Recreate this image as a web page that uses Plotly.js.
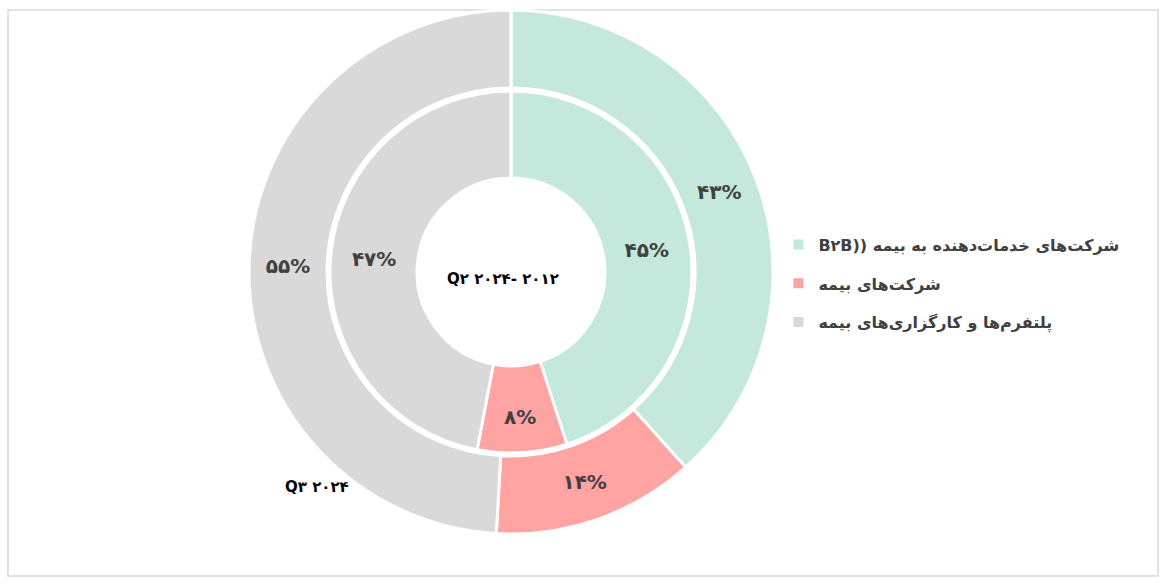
<!DOCTYPE html>
<html>
<head>
<meta charset="utf-8">
<script src="https://cdn.plot.ly/plotly-3.0.1.min.js"></script>
<style>html,body{margin:0;padding:0;background:#fff;}#chart{width:1167px;height:588px;}</style>
</head>
<body>
<div id="chart"></div>
<script>
// Data
const categories = ["B۲B)) شرکت‌های خدمات‌دهنده به بیمه", "شرکت‌های بیمه", "پلتفرم‌ها و کارگزاری‌های بیمه"];
const outerValues = [43, 14, 55];   // Q3 2024
const innerValues = [45, 8, 47];    // 2012 - Q2 2024
const outerLabel = "Q۳ ۲۰۲۴";
const innerLabel = "Q۲ ۲۰۲۴- ۲۰۱۲";
const colors = ["#c5e8dc", "#ffa3a3", "#d9d9d9"];

function fa(n) {
  return String(n).replace(/[0-9]/g, d => "۰۱۲۳۴۵۶۷۸۹"[+d]) + "%";
}

const W = 1167, H = 588;
const cx = 511, cy = 272;
const rOuter = 262;
function dom(r) {
  return {
    x: [(cx - r) / W, (cx + r) / W],
    y: [(H - cy - r) / H, (H - cy + r) / H]
  };
}

const textFont = {family: "DejaVu Sans", size: 20, color: "#404040", weight: 700};

const traces = [
  {
    type: "pie", values: outerValues, labels: categories, text: outerValues.map(fa),
    textinfo: "text", textposition: "inside", insidetextorientation: "horizontal",
    sort: false, direction: "clockwise", rotation: 0,
    hole: 184 / rOuter, domain: dom(rOuter),
    marker: {colors: colors, line: {color: "#ffffff", width: 3}},
    textfont: textFont, showlegend: false, hoverinfo: "label+value"
  },
  {
    type: "pie", values: innerValues, labels: categories, text: innerValues.map(fa),
    textinfo: "text", textposition: "inside", insidetextorientation: "horizontal",
    sort: false, direction: "clockwise", rotation: 0,
    hole: 94 / 181, domain: dom(181),
    marker: {colors: colors, line: {color: "#ffffff", width: 3}},
    textfont: textFont, showlegend: false, hoverinfo: "label+value"
  }
];
categories.forEach((c, i) => {
  traces.push({
    type: "scatter", mode: "markers", x: [null], y: [null], name: c,
    legendgroup: "g" + i,
    marker: {symbol: "square", size: 10, color: colors[i]},
    showlegend: true, hoverinfo: "skip"
  });
});

const layout = {
  width: W, height: H,
  margin: {l: 0, r: 0, t: 0, b: 0},
  paper_bgcolor: "#ffffff", plot_bgcolor: "rgba(0,0,0,0)",
  xaxis: {visible: false}, yaxis: {visible: false},
  showlegend: true,
  legend: {
    x: 0.667, y: 0.613, xanchor: "left", yanchor: "top",
    traceorder: "grouped", tracegroupgap: 15,
    font: {family: "DejaVu Sans", size: 16, color: "#404040", weight: 700},
    bgcolor: "rgba(0,0,0,0)", itemwidth: 30
  },
  annotations: [
    {text: innerLabel, x: 503 / W, y: (H - 279) / H, xref: "paper", yref: "paper",
     showarrow: false, font: {family: "DejaVu Sans", size: 15, color: "#000000", weight: 700}},
    {text: outerLabel, x: 283 / W, y: (H - 498) / H, xref: "paper", yref: "paper", xanchor: "left",
     showarrow: false, font: {family: "DejaVu Sans", size: 15, color: "#000000", weight: 700}}
  ],
  shapes: [
    {type: "rect", xref: "paper", yref: "paper", x0: 8 / W, x1: 1158 / W, y0: (H - 576) / H, y1: (H - 10) / H,
     line: {color: "#d9d9d9", width: 1.5}, fillcolor: "rgba(0,0,0,0)", layer: "below"}
  ]
};

Plotly.newPlot("chart", traces, layout, {displayModeBar: false, staticPlot: true});
</script>
</body>
</html>
